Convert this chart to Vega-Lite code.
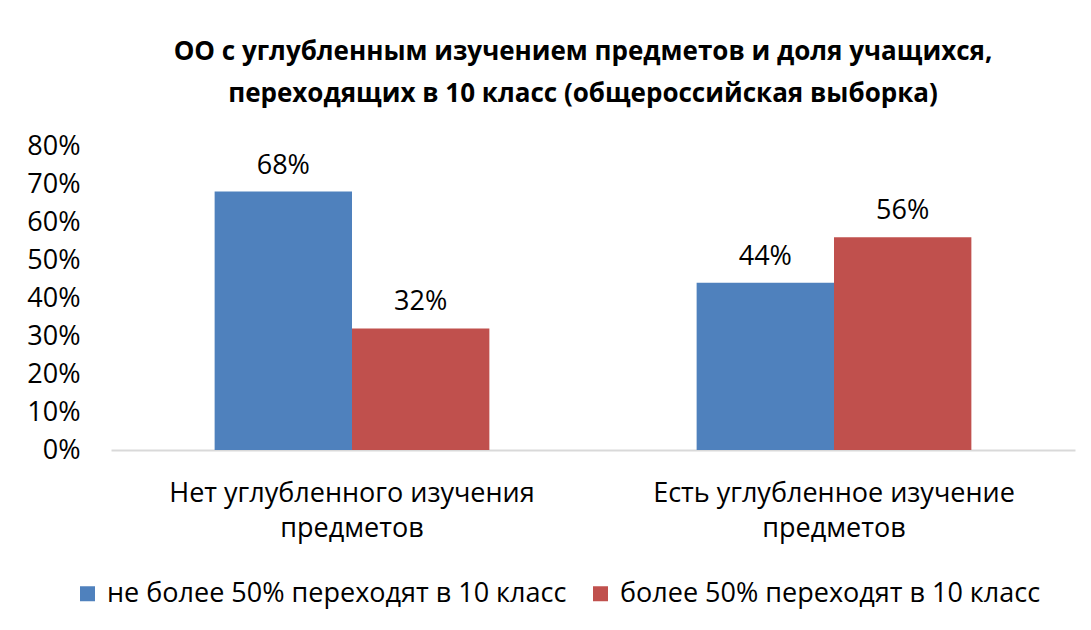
{
  "$schema": "https://vega.github.io/schema/vega-lite/v6.json",
  "autosize": {"type": "none"},
  "width": 964,
  "height": 304,
  "padding": {"left": 111, "top": 146, "right": 16, "bottom": 180},
  "background": "white",
  "view": {"stroke": null},
  "title": {
    "text": ["ОО с углубленным изучением предметов и доля учащихся,", "переходящих в 10 класс (общероссийская выборка)"],
    "font": "Open Sans",
    "fontSize": 26,
    "fontWeight": "bold",
    "color": "#000000",
    "lineHeight": 42,
    "anchor": "middle",
    "dx": -10,
    "offset": 25
  },
  "data": {
    "values": [
      {"cat": "Нет углубленного изучения|предметов", "series": "не более 50% переходят в 10 класс", "value": 0.68, "label": "68%"},
      {"cat": "Нет углубленного изучения|предметов", "series": "более 50% переходят в 10 класс", "value": 0.32, "label": "32%"},
      {"cat": "Есть углубленное изучение|предметов", "series": "не более 50% переходят в 10 класс", "value": 0.44, "label": "44%"},
      {"cat": "Есть углубленное изучение|предметов", "series": "более 50% переходят в 10 класс", "value": 0.56, "label": "56%"}
    ]
  },
  "encoding": {
    "x": {
      "field": "cat", "type": "nominal", "sort": null,
      "scale": {"paddingInner": 0.43, "paddingOuter": 0.215},
      "axis": {
        "title": null, "labelAngle": 0, "ticks": false,
        "domainColor": "#D9D9D9", "domainWidth": 2,
        "labelExpr": "split(datum.label, '|')",
        "labelFont": "Open Sans", "labelFontSize": 27, "labelColor": "#000000",
        "labelLineHeight": 35, "labelPadding": 30, "labelLimit": 500
      }
    },
    "xOffset": {"field": "series", "type": "nominal", "sort": ["не более 50% переходят в 10 класс", "более 50% переходят в 10 класс"], "scale": {"paddingInner": 0, "paddingOuter": 0}},
    "y": {
      "field": "value", "type": "quantitative",
      "scale": {"domain": [0, 0.8], "nice": false},
      "axis": {
        "title": null, "format": ".0%", "values": [0, 0.1, 0.2, 0.3, 0.4, 0.5, 0.6, 0.7, 0.8],
        "grid": false, "domain": false, "ticks": false,
        "labelFont": "Open Sans", "labelFontSize": 27, "labelColor": "#000000",
        "labelPadding": 31
      }
    }
  },
  "layer": [
    {
      "mark": {"type": "bar"},
      "encoding": {
        "color": {
          "field": "series", "type": "nominal",
          "sort": ["не более 50% переходят в 10 класс", "более 50% переходят в 10 класс"],
          "scale": {"range": ["#4F81BD", "#C0504D"]},
          "legend": {
            "title": null, "orient": "none", "direction": "horizontal",
            "legendX": -37, "legendY": 434,
            "symbolType": "square", "symbolSize": 225, "symbolStrokeWidth": 0,
            "labelFont": "Open Sans", "labelFontSize": 27, "labelColor": "#000000",
            "labelOffset": 6, "columnPadding": 20, "labelLimit": 700
          }
        }
      }
    },
    {
      "mark": {"type": "text", "baseline": "bottom", "dy": -12, "font": "Open Sans", "fontSize": 27, "color": "#000000"},
      "encoding": {"text": {"field": "label"}}
    }
  ]
}
